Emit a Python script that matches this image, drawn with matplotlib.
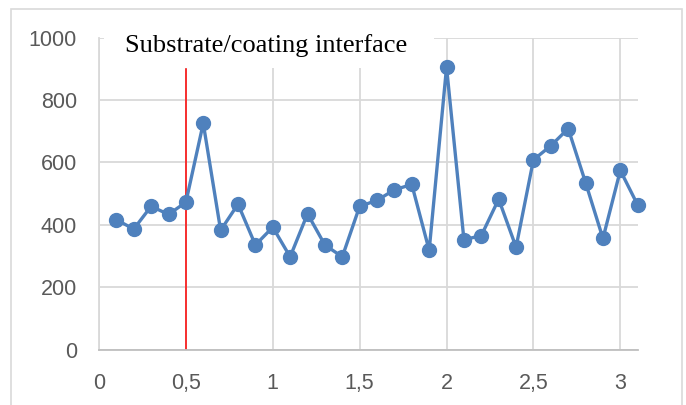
import matplotlib.pyplot as plt
from matplotlib.patches import Rectangle

# Depth positions and measured values
depth = [0.1, 0.2, 0.3, 0.4, 0.5, 0.6, 0.7, 0.8, 0.9, 1.0,
         1.1, 1.2, 1.3, 1.4, 1.5, 1.6, 1.7, 1.8, 1.9, 2.0,
         2.1, 2.2, 2.3, 2.4, 2.5, 2.6, 2.7, 2.8, 2.9, 3.0, 3.1]
values = [416, 386, 459, 433, 472, 725, 382, 466, 335, 392,
          297, 435, 335, 297, 459, 478, 512, 529, 318, 905,
          352, 365, 482, 328, 608, 653, 708, 535, 356, 574, 463]

# Interface marker
interface_x = 0.5
interface_top = 900
interface_label = "Substrate/coating interface"

xticks = [0, 0.5, 1, 1.5, 2, 2.5, 3]
xtick_labels = ["0", "0,5", "1", "1,5", "2", "2,5", "3"]
yticks = [0, 200, 400, 600, 800, 1000]
ytick_labels = ["0", "200", "400", "600", "800", "1000"]

fig = plt.figure(figsize=(6.86, 4.05), dpi=100)
ax = fig.add_axes([0.1443, 0.137, 0.7853, 0.7704])

# chart area border
fig.patches.append(Rectangle((0.016, -0.1), 0.978, 1.078, transform=fig.transFigure,
                             fill=False, edgecolor="#d9d9d9", linewidth=1.2))

ax.plot(depth, values, color="#4f81bd", linewidth=2.4, marker="o",
        markersize=10, zorder=3, clip_on=False)
ax.plot([interface_x, interface_x], [0, interface_top], color="red",
        linewidth=1.1, zorder=2)

# text box (white background hides the grid under the label)
ax.add_patch(Rectangle((0.03, 903), 1.9, 120, facecolor="white",
                       edgecolor="none", zorder=2.2, clip_on=False))
ax.text(0.15, 954, interface_label, family="Liberation Serif", fontsize=19,
        color="black", va="baseline", ha="left", zorder=4)

ax.set_xlim(0, 3.1)
ax.set_ylim(0, 1000)
ax.set_xticks(xticks)
ax.set_xticklabels(xtick_labels)
ax.set_yticks(yticks)
ax.set_yticklabels(ytick_labels)

ax.grid(True, color="#d9d9d9", linewidth=1.3, zorder=0)
ax.set_axisbelow(True)
ax.tick_params(length=0, labelsize=15.5, labelcolor="#595959")
ax.tick_params(axis="y", pad=16)
ax.tick_params(axis="x", pad=17)
for lbl in ax.get_xticklabels() + ax.get_yticklabels():
    lbl.set_family("Liberation Sans")

ax.spines["top"].set_visible(False)
ax.spines["right"].set_visible(False)
ax.spines["left"].set_color("#d9d9d9")
ax.spines["left"].set_linewidth(1.3)
ax.spines["left"].set_zorder(2.5)
ax.spines["bottom"].set_color("#bfbfbf")
ax.spines["bottom"].set_linewidth(1.3)

fig.savefig("out.png", dpi=100)
